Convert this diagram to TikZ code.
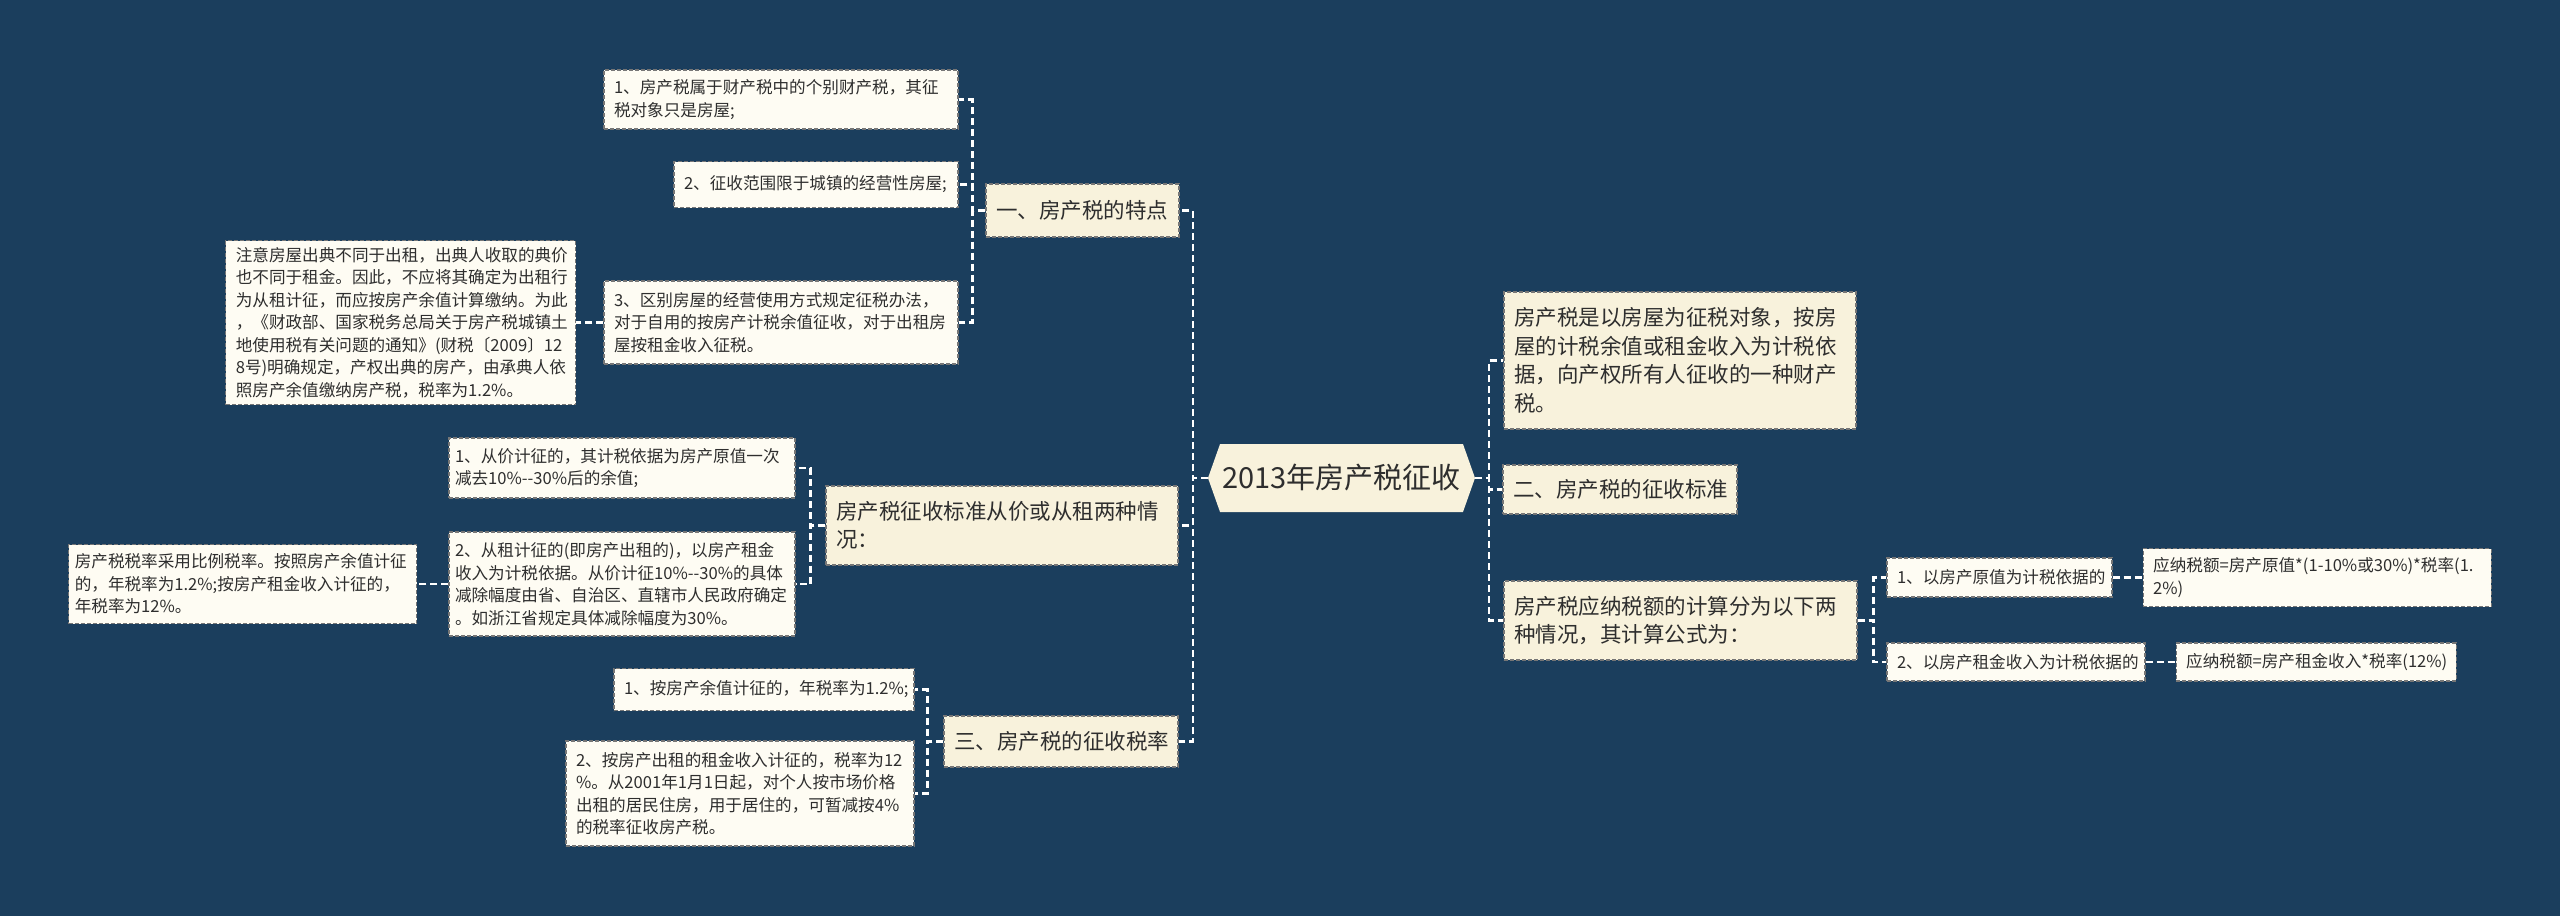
\documentclass[tikz,border=0pt]{standalone}
\usepackage{fontspec}
\usepackage{tikz}
\usetikzlibrary{positioning,shapes.symbols}
\newfontfamily\cjk{Noto Sans CJK SC}
\definecolor{bg}{HTML}{1B3E5D}
\definecolor{cream}{HTML}{F8F2DC}
\definecolor{paper}{HTML}{FEFCF3}
\definecolor{ink}{HTML}{2E2E2E}
\definecolor{rim}{HTML}{767676}
\tikzset{
	every node/.style={text=ink},
	my edge/.style={white, line width=2.5pt, dash pattern=on 7pt off 4pt} % white dashed connector
}

\begin{document}
\begin{tikzpicture}[x=1pt,y=-1pt]
            \tikzset{my root/.style = {signal, signal to=west and east, signal pointer angle=141, fill=cream, font=\cjk\fontsize{29}{34}\selectfont, inner xsep=2pt, minimum height=68pt, minimum width=267pt}}
            \tikzset{my main/.style = {rectangle, draw=rim, line width=1.2pt, dash pattern=on 4pt off 2pt, fill=cream, font=\cjk\fontsize{21.5}{28.5}\selectfont, inner xsep=10pt, inner ysep=0pt, align=left}}
            \tikzset{my leaf/.style = {rectangle, draw=rim, line width=1.2pt, dash pattern=on 4pt off 2pt, fill=paper, font=\cjk\fontsize{16.6}{22.5}\selectfont, inner xsep=10pt, inner ysep=0pt, align=left}}
            \useasboundingbox (0,0) rectangle (2560,916);
            \fill[bg] (0,0) rectangle (2560,916);
            % centre
            \node[my root] (0) at (1341.5,478) {2013年房产税征收};
            % left side
            \node[my main, text width=173pt, minimum height=53pt] (1) at (1082.5,210.5) {一、房产税的特点};
            \node[my main, text width=332pt, minimum height=79pt] (2) at (1002,525.5) {房产税征收标准从价或从租两种情\\况：};
            \node[my main, text width=214pt, minimum height=51pt] (3) at (1061,741.5) {三、房产税的征收税率};
            \node[my leaf, text width=334pt, minimum height=59pt] (11) at (781,99.5) {1、房产税属于财产税中的个别财产税，其征\\税对象只是房屋;};
            \node[my leaf, text width=264pt, minimum height=46pt] (12) at (816,184.5) {2、征收范围限于城镇的经营性房屋;};
            \node[my leaf, text width=334pt, minimum height=83pt] (13) at (781,322.5) {3、区别房屋的经营使用方式规定征税办法，\\对于自用的按房产计税余值征收，对于出租房\\屋按租金收入征税。};
            \node[my leaf, text width=330pt, minimum height=164pt] (131) [left=27pt of 13] {注意房屋出典不同于出租，出典人收取的典价\\也不同于租金。因此，不应将其确定为出租行\\为从租计征，而应按房产余值计算缴纳。为此\\，《财政部、国家税务总局关于房产税城镇土\\地使用税有关问题的通知》(财税〔2009〕12\\8号)明确规定，产权出典的房产，由承典人依\\照房产余值缴纳房产税，税率为1.2\%。};
            \node[my leaf, inner xsep=6pt, text width=334pt, minimum height=60pt] (21) at (622,468) {1、从价计征的，其计税依据为房产原值一次\\减去\mbox{10\%-{}-30\%}后的余值;};
            \node[my leaf, inner xsep=6pt, text width=334pt, minimum height=104pt] (22) at (622,584) {2、从租计征的(即房产出租的)，以房产租金\\\mbox{收入为计税依据。从价计征10\%-{}-30\%的具体}\\\mbox{减除幅度由省、自治区、直辖市人民政府确定}\\。如浙江省规定具体减除幅度为30\%。};
            \node[my leaf, inner xsep=6pt, text width=336pt, minimum height=79pt] (221) [left=31pt of 22] {房产税税率采用比例税率。按照房产余值计征\\的，年税率为1.2\%;按房产租金收入计征的，\\年税率为12\%。};
            \node[my leaf, text width=280pt, minimum height=42pt] (31) at (764,689.5) {1、按房产余值计征的，年税率为1.2\%;};
            \node[my leaf, text width=328pt, minimum height=105pt] (32) at (740,793.5) {2、按房产出租的租金收入计征的，税率为12\\\%。从2001年1月1日起，对个人按市场价格\\出租的居民住房，用于居住的，可暂减按4\%\\的税率征收房产税。};
            % right side
            \node[my main, text width=332pt, minimum height=137pt] (4) at (1680,360.5) {房产税是以房屋为征税对象，按房\\屋的计税余值或租金收入为计税依\\据，向产权所有人征收的一种财产\\税。};
            \node[my main, text width=214pt, minimum height=49pt] (5) at (1620,489.5) {二、房产税的征收标准};
            \node[my main, text width=333pt, minimum height=79pt] (6) at (1680.5,620.5) {房产税应纳税额的计算分为以下两\\种情况，其计算公式为：};
            \node[my leaf, text width=205pt, minimum height=39pt] (61) at (1999.5,577.5) {1、以房产原值为计税依据的};
            \node[my leaf, text width=328pt, minimum height=58pt] (611) [right=30pt of 61] {应纳税额=房产原值*(1-10\%或30\%)*税率(1.\\2\%)};
            \node[my leaf, text width=238pt, minimum height=38pt] (62) at (2016,662) {2、以房产租金收入为计税依据的};
            \node[my leaf, text width=260pt, minimum height=38pt] (621) [right=30pt of 62] {应纳税额=房产租金收入*税率(12\%)};
            % connectors
            \foreach \c in {1,2,3} \draw[my edge] (0.west) -- ++(-15,0) |- (\c.east);
            \foreach \c in {4,5,6} \draw[my edge] (0.east) -- ++(14,0) |- (\c.west);
            \foreach \c in {11,12,13} \draw[my edge] (1.west) -- ++(-13,0) |- (\c.east);
            \foreach \c in {21,22} \draw[my edge] (2.west) -- ++(-15,0) |- (\c.east);
            \foreach \c in {31,32} \draw[my edge] (3.west) -- ++(-16,0) |- (\c.east);
            \foreach \c in {61,62} \draw[my edge] (6.east) -- ++(16,0) |- (\c.west);
            \draw[my edge] (13.west) -- (131.east);
            \draw[my edge] (22.west) -- (221.east);
            \draw[my edge] (61.east) -- (611.west);
            \draw[my edge] (62.east) -- (621.west);
        \end{tikzpicture}
\end{document}
